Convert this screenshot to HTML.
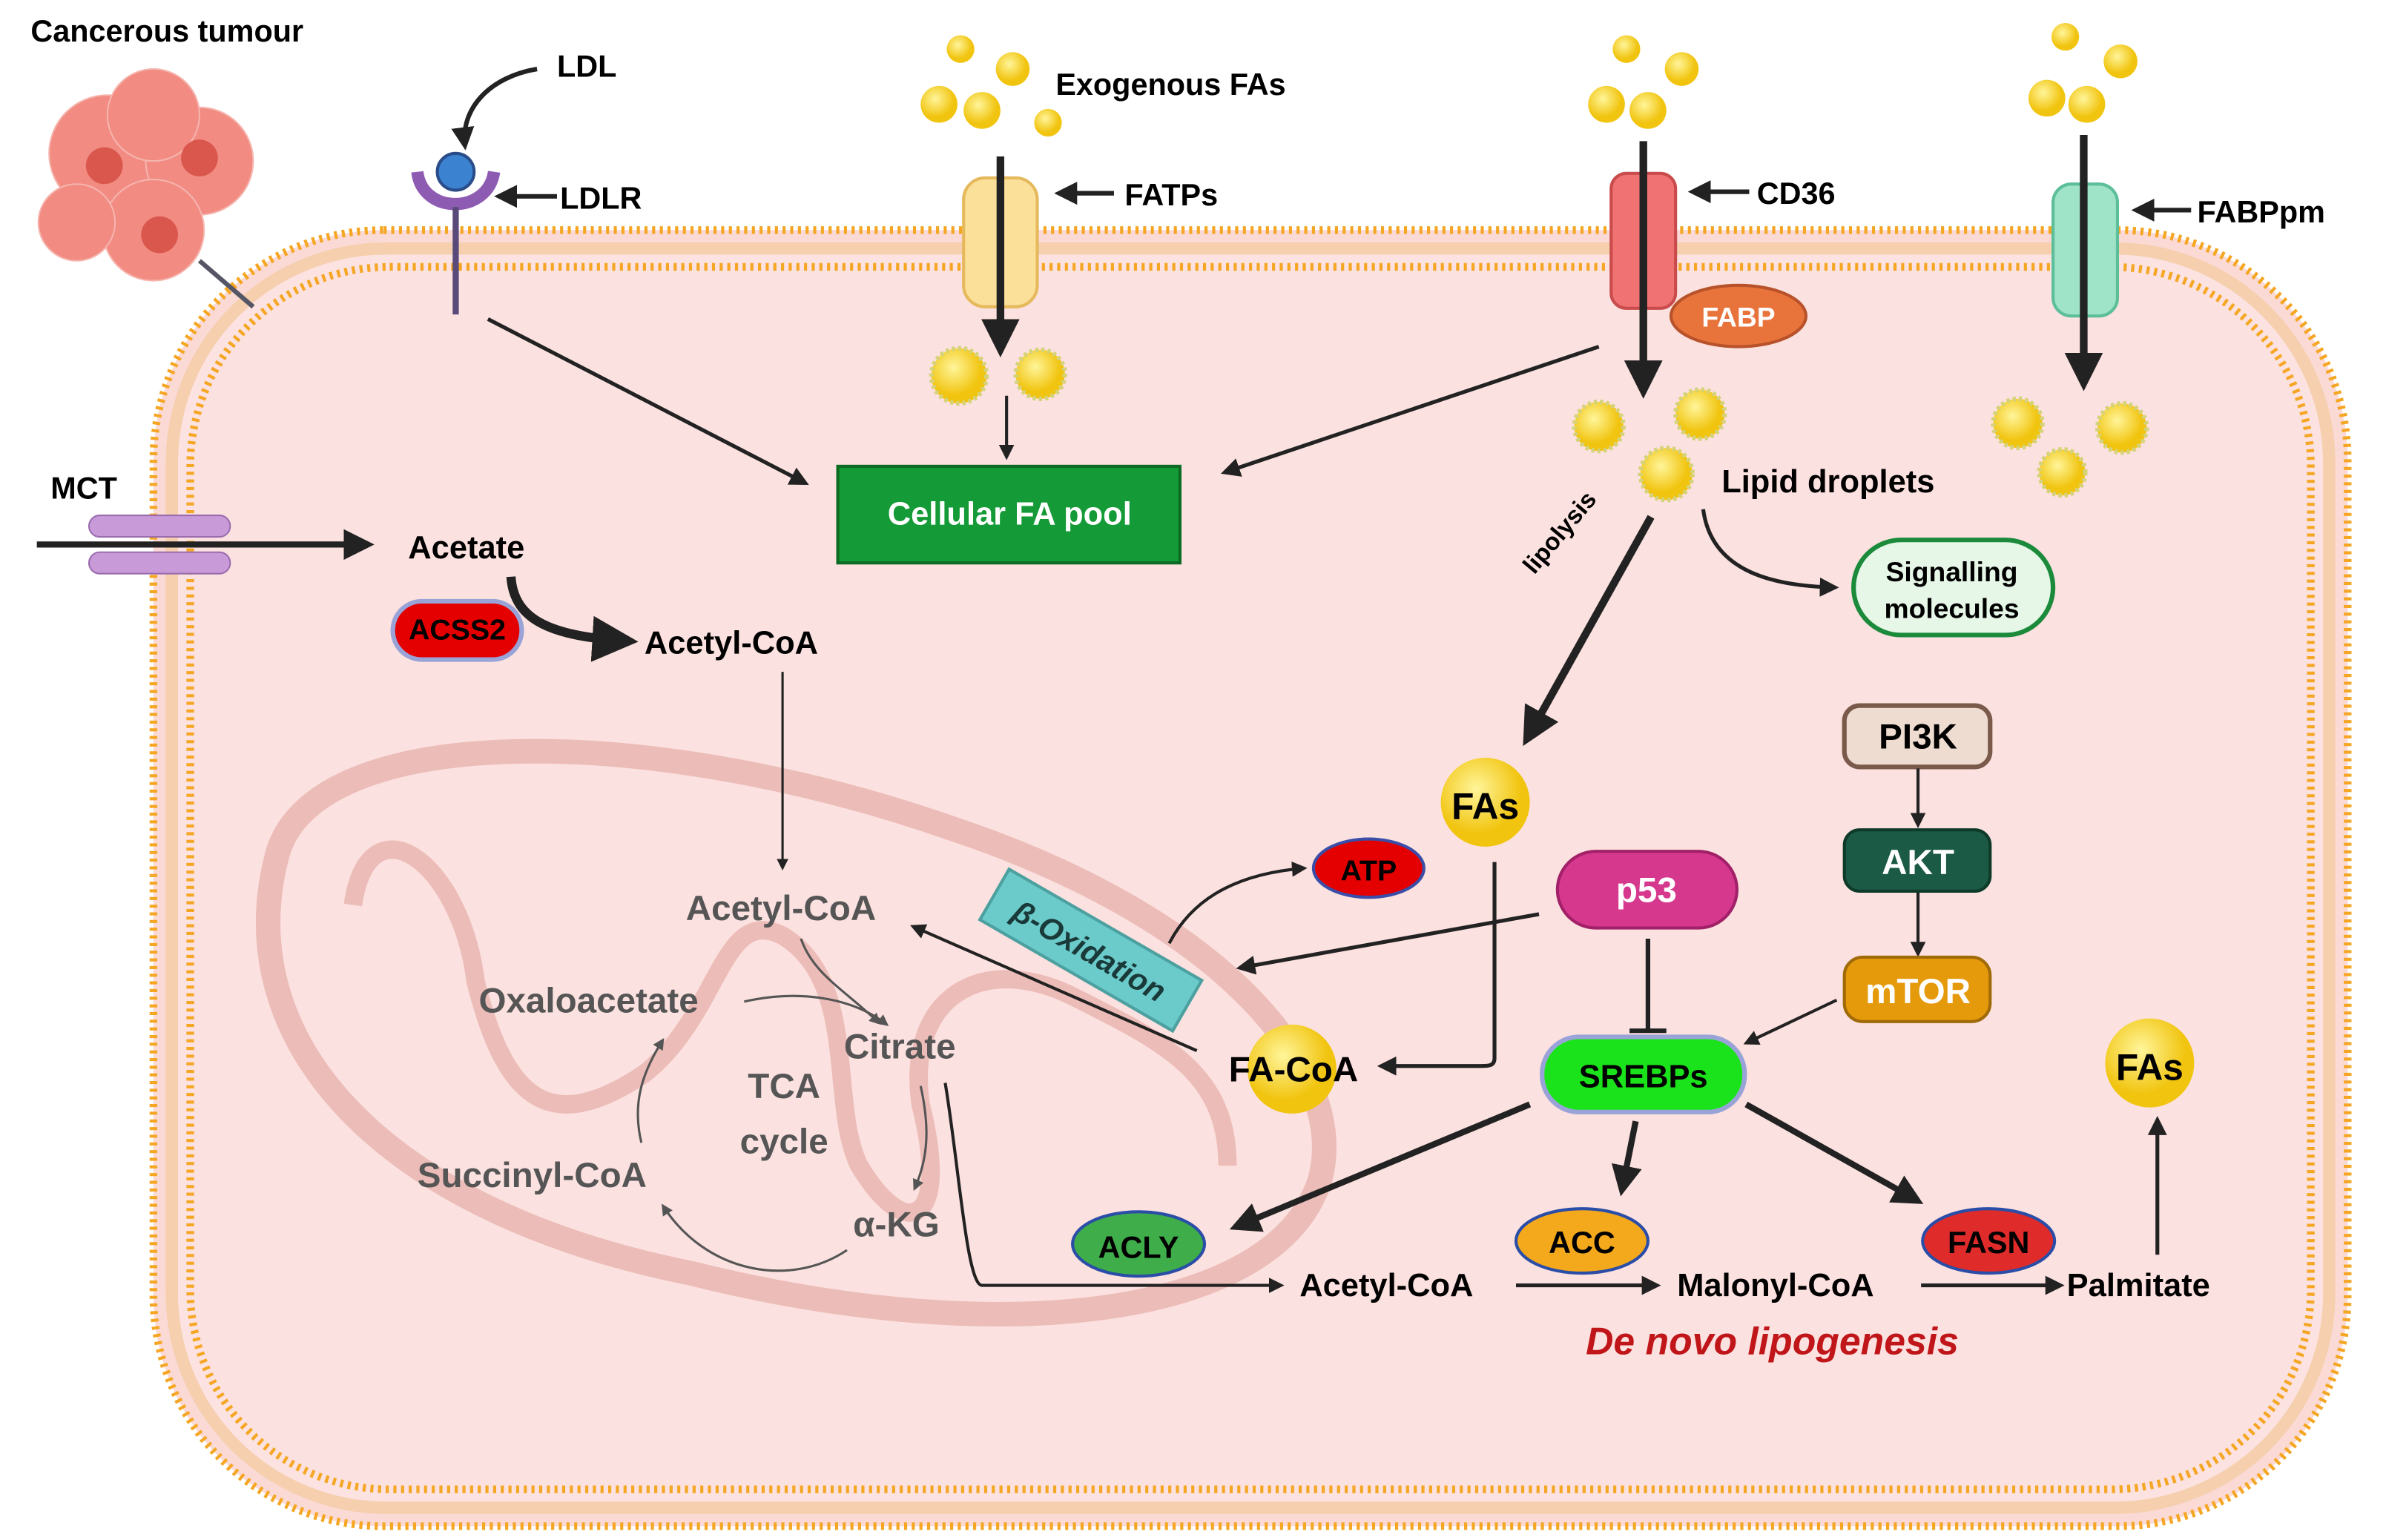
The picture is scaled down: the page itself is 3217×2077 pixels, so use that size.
<!DOCTYPE html>
<html><head><meta charset="utf-8"><style>
html,body{margin:0;padding:0;background:#fff}
svg{display:block}
text{font-family:"Liberation Sans",sans-serif;font-weight:bold}
</style></head><body>
<svg width="3217" height="2077" viewBox="0 0 1555 1004" preserveAspectRatio="none" xmlns="http://www.w3.org/2000/svg">
<defs>
<marker id="a" viewBox="0 0 10 10" refX="8" refY="5" markerWidth="5" markerHeight="5" orient="auto"><path d="M0,0L10,5L0,10z" fill="#222"/></marker>
<marker id="ag" viewBox="0 0 10 10" refX="8" refY="5" markerWidth="5" markerHeight="5" orient="auto"><path d="M0,0L10,5L0,10z" fill="#555"/></marker>
<radialGradient id="dr" cx="40%" cy="35%"><stop offset="0" stop-color="#fff59a"/><stop offset="1" stop-color="#f1c40f"/></radialGradient>
</defs>
<rect width="1555" height="1004" fill="#fff"/>
<!-- cell -->
<rect x="100" y="150" width="1430" height="845" rx="150" fill="#fbd9d5" stroke="#f5a623" stroke-width="5" stroke-dasharray="2 3"/>
<rect x="112" y="162" width="1406" height="821" rx="140" fill="#fce2e0" stroke="#f5cfae" stroke-width="8"/>
<rect x="124" y="174" width="1382" height="797" rx="130" fill="#fbe1df" stroke="#f5a623" stroke-width="5" stroke-dasharray="2 3"/>
<!-- tumour -->
<g fill="#f28b82" stroke="#f5b5ae">
<circle cx="70" cy="100" r="38"/><circle cx="130" cy="105" r="35"/><circle cx="100" cy="150" r="33"/><circle cx="50" cy="145" r="25"/><circle cx="100" cy="75" r="30"/></g>
<g fill="#d9574d"><circle cx="68" cy="108" r="12"/><circle cx="130" cy="103" r="12"/><circle cx="104" cy="153" r="12"/></g>
<line x1="130" y1="170" x2="165" y2="200" stroke="#556" stroke-width="3"/>
<text x="20" y="27" font-size="20">Cancerous tumour</text>
<!-- mitochondrion -->
<path d="M180,560 C200,470 420,470 620,540 C800,600 880,700 860,770 C830,860 650,880 450,830 C250,790 150,680 180,560Z" fill="none" stroke="#e8b3ae" stroke-width="16" opacity=".8"/>
<path d="M230,590 C240,520 300,560 310,640 C330,720 360,740 420,700 C470,660 470,590 510,610 C560,640 540,720 560,760 C590,810 620,800 600,720 C590,650 640,620 700,650 C760,680 800,700 800,760" fill="none" stroke="#e8b3ae" stroke-width="12" opacity=".8"/>
<!-- LDL -->
<path d="M350,45 C320,50 300,70 303,95" fill="none" stroke="#222" stroke-width="3" marker-end="url(#a)"/>
<text x="363" y="50" font-size="20">LDL</text>
<path d="M272,112 C275,140 318,140 322,112" fill="none" stroke="#8e5bb3" stroke-width="8"/>
<circle cx="297" cy="112" r="12" fill="#3b82d0" stroke="#2a4d8a" stroke-width="2"/>
<line x1="297" y1="135" x2="297" y2="205" stroke="#5a4a7a" stroke-width="4"/>
<line x1="363" y1="128" x2="325" y2="128" stroke="#222" stroke-width="3" marker-end="url(#a)"/>
<text x="365" y="136" font-size="20">LDLR</text>
<!-- exog FAs -->
<g fill="url(#dr)"><circle cx="626" cy="32" r="9"/><circle cx="660" cy="45" r="11"/><circle cx="612" cy="68" r="12"/><circle cx="640" cy="72" r="12"/><circle cx="683" cy="80" r="9"/>
<circle cx="1060" cy="32" r="9"/><circle cx="1096" cy="45" r="11"/><circle cx="1047" cy="68" r="12"/><circle cx="1074" cy="72" r="12"/>
<circle cx="1346" cy="24" r="9"/><circle cx="1382" cy="40" r="11"/><circle cx="1334" cy="64" r="12"/><circle cx="1360" cy="68" r="12"/></g>
<text x="688" y="62" font-size="20">Exogenous FAs</text>
<rect x="628" y="116" width="48" height="84" rx="14" fill="#fbe09a" stroke="#e5b95c" stroke-width="2"/>
<line x1="652" y1="102" x2="652" y2="228" stroke="#222" stroke-width="5" marker-end="url(#a)"/>
<line x1="726" y1="126" x2="690" y2="126" stroke="#222" stroke-width="3" marker-end="url(#a)"/>
<text x="733" y="134" font-size="20">FATPs</text>
<g fill="url(#dr)" stroke="#d4d27a" stroke-width="3" stroke-dasharray="2 2"><circle cx="625" cy="245" r="18"/><circle cx="678" cy="244" r="16"/>
<circle cx="1042" cy="278" r="16"/><circle cx="1108" cy="270" r="16"/><circle cx="1086" cy="309" r="17"/>
<circle cx="1315" cy="276" r="16"/><circle cx="1383" cy="279" r="16"/><circle cx="1344" cy="308" r="15"/></g>
<line x1="656" y1="258" x2="656" y2="298" stroke="#222" stroke-width="2" marker-end="url(#a)"/>
<!-- CD36 -->
<rect x="1050" y="113" width="42" height="88" rx="10" fill="#f07272" stroke="#c94b4b" stroke-width="2"/>
<line x1="1071" y1="92" x2="1071" y2="255" stroke="#222" stroke-width="5" marker-end="url(#a)"/>
<line x1="1140" y1="125" x2="1103" y2="125" stroke="#222" stroke-width="3" marker-end="url(#a)"/>
<text x="1145" y="133" font-size="20">CD36</text>
<ellipse cx="1133" cy="206" rx="44" ry="20" fill="#e8743c" stroke="#b8522a" stroke-width="2"/>
<text x="1133" y="213" font-size="18" fill="#fff" text-anchor="middle">FABP</text>
<!-- FABPpm -->
<rect x="1338" y="120" width="42" height="86" rx="12" fill="#9fe3c8" stroke="#5cbf9a" stroke-width="2"/>
<line x1="1358" y1="88" x2="1358" y2="250" stroke="#222" stroke-width="5" marker-end="url(#a)"/>
<line x1="1428" y1="137" x2="1392" y2="137" stroke="#222" stroke-width="3" marker-end="url(#a)"/>
<text x="1432" y="145" font-size="20">FABPpm</text>
<!-- arrows to pool -->
<line x1="318" y1="208" x2="525" y2="315" stroke="#222" stroke-width="2.5" marker-end="url(#a)"/>
<line x1="1042" y1="226" x2="798" y2="308" stroke="#222" stroke-width="2.5" marker-end="url(#a)"/>
<rect x="546" y="304" width="223" height="63" fill="#149a36" stroke="#0c6a22" stroke-width="2"/>
<text x="658" y="342" font-size="21" fill="#fff" text-anchor="middle">Cellular FA pool</text>
<!-- MCT -->
<text x="33" y="325" font-size="20">MCT</text>
<line x1="24" y1="355" x2="240" y2="355" stroke="#222" stroke-width="4" marker-end="url(#a)"/>
<rect x="58" y="336" width="92" height="14" rx="7" fill="#c89ad8" stroke="#9a6cae"/>
<rect x="58" y="360" width="92" height="14" rx="7" fill="#c89ad8" stroke="#9a6cae"/>
<text x="266" y="364" font-size="21">Acetate</text>
<path d="M333,376 C335,405 360,415 410,418" fill="none" stroke="#222" stroke-width="6" marker-end="url(#a)"/>
<rect x="256" y="392" width="84" height="38" rx="19" fill="#e40000" stroke="#9aa3d8" stroke-width="3"/>
<text x="298" y="417" font-size="19" text-anchor="middle">ACSS2</text>
<text x="420" y="426" font-size="21">Acetyl-CoA</text>
<line x1="510" y1="438" x2="510" y2="566" stroke="#222" stroke-width="1.5" marker-end="url(#a)"/>
<!-- TCA -->
<g font-weight="normal" fill="#555"><text x="447" y="600" font-size="23" font-weight="normal">Acetyl-CoA</text>
<text x="312" y="660" font-size="23" font-weight="normal">Oxaloacetate</text>
<text x="550" y="690" font-size="23" font-weight="normal">Citrate</text>
<text x="272" y="774" font-size="23" font-weight="normal">Succinyl-CoA</text>
<text x="556" y="806" font-size="23" font-weight="normal">α-KG</text></g>
<text x="511" y="716" font-size="23" fill="#555" text-anchor="middle">TCA</text>
<text x="511" y="752" font-size="23" fill="#555" text-anchor="middle">cycle</text>
<g fill="none" stroke="#555" stroke-width="1.5">
<path d="M522,612 C530,635 550,645 573,667" marker-end="url(#ag)"/>
<path d="M485,653 C520,645 555,650 578,668" marker-end="url(#ag)"/>
<path d="M600,708 C606,735 605,755 596,775" marker-end="url(#ag)"/>
<path d="M552,815 C515,840 460,830 432,786" marker-end="url(#ag)"/>
<path d="M418,745 C412,720 418,700 432,678" marker-end="url(#ag)"/>
</g>
<path d="M616,706 C625,760 630,838 640,838 L835,838" fill="none" stroke="#222" stroke-width="2" marker-end="url(#a)"/>
<!-- lipid droplets -->
<text x="1122" y="321" font-size="21">Lipid droplets</text>
<text x="1000" y="375" font-size="16" transform="rotate(-50 1000 375)" font-weight="normal">lipolysis</text>
<line x1="1076" y1="337" x2="995" y2="482" stroke="#222" stroke-width="5" marker-end="url(#a)"/>
<path d="M1110,332 C1115,370 1150,382 1196,383" fill="none" stroke="#222" stroke-width="2.5" marker-end="url(#a)"/>
<rect x="1208" y="352" width="130" height="62" rx="31" fill="#e6f7e8" stroke="#1b8a3a" stroke-width="3"/>
<text x="1272" y="379" font-size="18" text-anchor="middle">Signalling</text>
<text x="1272" y="403" font-size="18" text-anchor="middle">molecules</text>
<!-- FAs -->
<circle cx="968" cy="523" r="29" fill="url(#dr)"/>
<text x="968" y="534" font-size="24" text-anchor="middle">FAs</text>
<path d="M974,562 L974,690 C974,695 970,695 965,695 L900,695" fill="none" stroke="#222" stroke-width="2.5" marker-end="url(#a)"/>
<circle cx="842" cy="697" r="29" fill="url(#dr)"/>
<text x="843" y="705" font-size="23" text-anchor="middle">FA-CoA</text>
<line x1="780" y1="685" x2="595" y2="604" stroke="#222" stroke-width="2" marker-end="url(#a)"/>
<g transform="rotate(30 710 620)"><rect x="638" y="600" width="145" height="38" fill="#5cc8c8" stroke="#3a9a9a" stroke-width="2" opacity=".9"/>
<text x="710" y="627" font-size="20" font-style="italic" text-anchor="middle" fill="#1a3a3a">β-Oxidation</text></g>
<path d="M762,615 C775,590 800,570 850,566" fill="none" stroke="#222" stroke-width="2" marker-end="url(#a)"/>
<ellipse cx="892" cy="566" rx="36" ry="19" fill="#e40000" stroke="#3a4da8" stroke-width="2"/>
<text x="892" y="574" font-size="19" text-anchor="middle">ATP</text>
<!-- p53 -->
<rect x="1015" y="555" width="117" height="50" rx="25" fill="#d6388e" stroke="#a12068" stroke-width="2"/>
<text x="1073" y="588" font-size="23" fill="#fff" text-anchor="middle">p53</text>
<line x1="1003" y1="596" x2="808" y2="631" stroke="#222" stroke-width="2.5" marker-end="url(#a)"/>
<line x1="1074" y1="612" x2="1074" y2="672" stroke="#222" stroke-width="3"/>
<line x1="1062" y1="672" x2="1086" y2="672" stroke="#222" stroke-width="3"/>
<!-- PI3K -->
<rect x="1202" y="460" width="95" height="40" rx="10" fill="#eedcd0" stroke="#7a5a4a" stroke-width="3"/>
<text x="1250" y="488" font-size="23" text-anchor="middle">PI3K</text>
<line x1="1250" y1="501" x2="1250" y2="538" stroke="#222" stroke-width="2" marker-end="url(#a)"/>
<rect x="1202" y="541" width="95" height="40" rx="10" fill="#1b5a45" stroke="#0e3a2a" stroke-width="2"/>
<text x="1250" y="570" font-size="23" fill="#fff" text-anchor="middle">AKT</text>
<line x1="1250" y1="582" x2="1250" y2="622" stroke="#222" stroke-width="2" marker-end="url(#a)"/>
<rect x="1202" y="624" width="95" height="42" rx="12" fill="#e59a0c" stroke="#a06a08" stroke-width="2"/>
<text x="1250" y="654" font-size="23" fill="#fff" text-anchor="middle">mTOR</text>
<line x1="1197" y1="652" x2="1138" y2="680" stroke="#222" stroke-width="2" marker-end="url(#a)"/>
<!-- SREBPs -->
<rect x="1005" y="676" width="132" height="49" rx="24" fill="#1be31b" stroke="#9aa3d8" stroke-width="3"/>
<text x="1071" y="709" font-size="21" text-anchor="middle">SREBPs</text>
<line x1="997" y1="720" x2="805" y2="800" stroke="#222" stroke-width="4" marker-end="url(#a)"/>
<line x1="1066" y1="731" x2="1057" y2="776" stroke="#222" stroke-width="4" marker-end="url(#a)"/>
<line x1="1138" y1="720" x2="1250" y2="783" stroke="#222" stroke-width="4" marker-end="url(#a)"/>
<ellipse cx="742" cy="811" rx="43" ry="21" fill="#3fae4a" stroke="#2a4da8" stroke-width="2"/>
<text x="742" y="820" font-size="20" text-anchor="middle">ACLY</text>
<ellipse cx="1031" cy="809" rx="43" ry="21" fill="#f4a81c" stroke="#2a4da8" stroke-width="2"/>
<text x="1031" y="817" font-size="20" text-anchor="middle">ACC</text>
<ellipse cx="1296" cy="809" rx="43" ry="21" fill="#e02b2b" stroke="#2a4da8" stroke-width="2"/>
<text x="1296" y="817" font-size="20" text-anchor="middle">FASN</text>
<text x="847" y="845" font-size="21">Acetyl-CoA</text>
<line x1="988" y1="838" x2="1080" y2="838" stroke="#222" stroke-width="2.5" marker-end="url(#a)"/>
<text x="1093" y="845" font-size="21">Malonyl-CoA</text>
<line x1="1252" y1="838" x2="1343" y2="838" stroke="#222" stroke-width="2.5" marker-end="url(#a)"/>
<text x="1347" y="845" font-size="21">Palmitate</text>
<line x1="1406" y1="818" x2="1406" y2="730" stroke="#222" stroke-width="2.5" marker-end="url(#a)"/>
<circle cx="1401" cy="693" r="29" fill="url(#dr)"/>
<text x="1401" y="704" font-size="24" text-anchor="middle">FAs</text>
<text x="1155" y="883" font-size="25" font-style="italic" fill="#c0161a" text-anchor="middle">De novo lipogenesis</text>
</svg>
</body></html>
